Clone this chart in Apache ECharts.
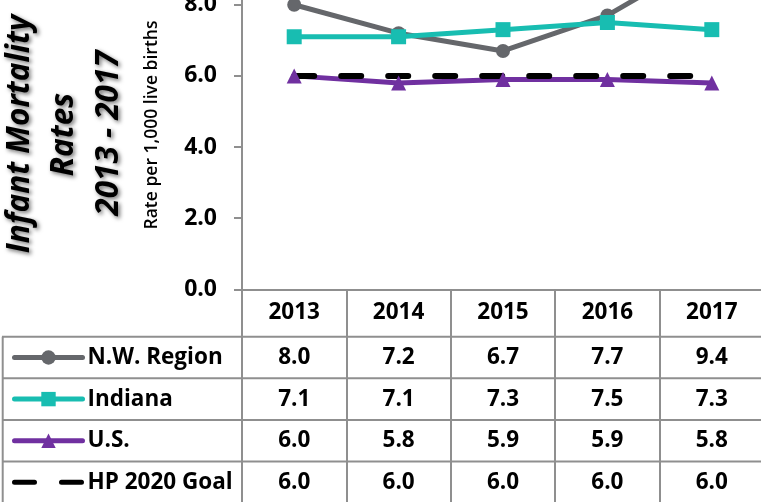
<!DOCTYPE html>
<html>
<head>
<meta charset="utf-8">
<script src="https://cdn.jsdelivr.net/npm/echarts@6/dist/echarts.min.js"></script>
<style>
  html, body { margin: 0; padding: 0; background: #fff; }
  #chart { width: 761px; height: 502px; }
</style>
</head>
<body>
<div id="chart"></div>
<script>
// data
const years = ['2013', '2014', '2015', '2016', '2017'];
const nwRegion = [8.0, 7.2, 6.7, 7.7, 9.4];
const indiana = [7.1, 7.1, 7.3, 7.5, 7.3];
const us = [6.0, 5.8, 5.9, 5.9, 5.8];
const hpGoal = [6.0, 6.0, 6.0, 6.0, 6.0];
const seriesNames = ['N.W. Region', 'Indiana', 'U.S.', 'HP 2020 Goal'];
const titleLines = ['Infant Mortality', 'Rates', '2013 - 2017'];
const yAxisTitle = 'Rate per 1,000 live births';

const tableRows = [nwRegion, indiana, us, hpGoal];

const FONT = '"Open Sans"';
const GRID_COLOR = '#8f8f8f';
const GRAY = '#65676b';
const TEAL = '#18bdb1';
const PURPLE = '#7030a0';

// table layout (header row + one row per series)
const headerH = 47.4;
const rowH = 41.6;

const chart = echarts.init(document.getElementById('chart'));

const option = {
    animation: false,
    grid: {
        left: 242, right: -3, top: -66.4, bottom: 212.7,
        outerBoundsMode: 'none'
    },
    xAxis: {
        type: 'category',
        data: years,
        boundaryGap: true,
        axisLine: { show: true, lineStyle: { color: GRID_COLOR, width: 2 } },
        axisTick: {
            show: true, interval: 0, alignWithLabel: false,
            length: 215,
            lineStyle: { color: GRID_COLOR, width: 2 }
        },
        splitLine: { show: false },
        axisLabel: {
            interval: 0,
            margin: 0,
            formatter: (v, i) => [`{h|${v}}`]
                .concat(tableRows.map(r => `{c|${r[i].toFixed(1)}}`))
                .join('\n'),
            rich: {
                h: { fontFamily: FONT, fontSize: 22.5, fontWeight: 'bold', color: '#000', lineHeight: headerH },
                c: { fontFamily: FONT, fontSize: 22.5, fontWeight: 'bold', color: '#000', lineHeight: rowH }
            }
        }
    },
    yAxis: {
        type: 'value',
        min: 0, max: 10, interval: 2,
        axisLine: { show: true, lineStyle: { color: GRID_COLOR, width: 2 } },
        axisTick: { show: true, length: 8, lineStyle: { color: GRID_COLOR, width: 2 } },
        splitLine: { show: false },
        axisLabel: {
            margin: 25,
            fontFamily: FONT, fontSize: 23, fontWeight: 'bold', color: '#000',
            formatter: v => v.toFixed(1)
        }
    },
    legend: {
        orient: 'vertical',
        left: 12, top: 346,
        padding: 0,
        itemWidth: 68, itemHeight: 18, itemGap: rowH - 23,
        lineStyle: { width: 5, cap: 'round' },
        textStyle: {
            fontFamily: FONT, fontSize: 22.5, fontWeight: 'bold', color: '#000',
            lineHeight: 23, padding: [0, 0, 0, 0]
        },
        data: seriesNames
    },
    series: [
        {
            name: seriesNames[0], type: 'line', data: nwRegion,
            symbol: 'circle', symbolSize: 14,
            lineStyle: { color: GRAY, width: 5 },
            itemStyle: { color: GRAY }
        },
        {
            name: seriesNames[1], type: 'line', data: indiana,
            symbol: 'rect', symbolSize: 15,
            lineStyle: { color: TEAL, width: 5 },
            itemStyle: { color: TEAL }
        },
        {
            name: seriesNames[2], type: 'line', data: us,
            symbol: 'triangle', symbolSize: 15,
            lineStyle: { color: PURPLE, width: 5 },
            itemStyle: { color: PURPLE }
        },
        {
            name: seriesNames[3], type: 'line', data: hpGoal,
            symbol: 'none',
            lineStyle: { color: '#000', width: 6, type: [20, 27], cap: 'round' },
            itemStyle: { color: 'rgba(0,0,0,0)' }
        }
    ]
};

chart.setOption(option);

// table lines and rotated titles
const axisY = chart.convertToPixel({ yAxisIndex: 0 }, 0);
const graphics = [];
for (let k = 0; k < tableRows.length; k++) {
    const y = axisY + headerH + k * rowH;
    graphics.push({
        type: 'line', silent: true,
        shape: { x1: 2, y1: y, x2: 764, y2: y },
        style: { stroke: GRID_COLOR, lineWidth: 2 }
    });
}
graphics.push({
    type: 'line', silent: true,
    shape: { x1: 2.7, y1: axisY + headerH, x2: 2.7, y2: 510 },
    style: { stroke: GRID_COLOR, lineWidth: 2 }
});

const titleX = [20, 64, 109];
const titleY = [134, 134.5, 133];
titleLines.forEach((t, i) => {
    graphics.push({
        type: 'text', silent: true,
        x: titleX[i], y: titleY[i], rotation: Math.PI / 2,
        style: {
            text: t,
            font: `italic bold 31.5px ${FONT}`,
            fill: '#000',
            align: 'center', verticalAlign: 'middle',
            textShadowColor: 'rgba(0,0,0,0.55)',
            textShadowBlur: 4,
            textShadowOffsetX: 2,
            textShadowOffsetY: 2
        }
    });
});
graphics.push({
    type: 'text', silent: true,
    x: 152, y: 125, rotation: Math.PI / 2,
    style: {
        text: yAxisTitle,
        font: `600 17.5px ${FONT}`,
        fill: '#000',
        align: 'center', verticalAlign: 'middle'
    }
});

chart.setOption({ graphic: graphics });
</script>
</body>
</html>
